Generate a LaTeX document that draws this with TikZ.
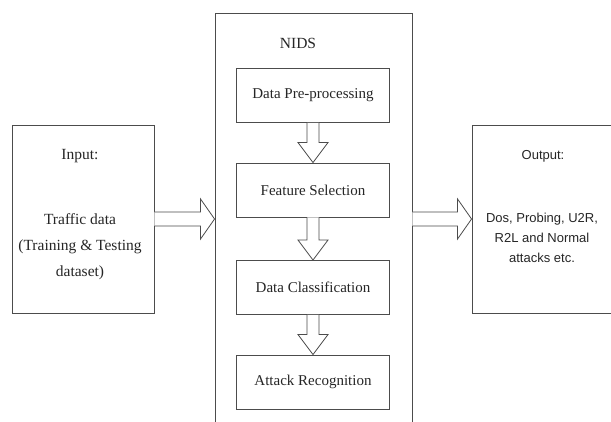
\documentclass[tikz,border=0pt]{standalone}
\usepackage{fontspec}
\setmainfont{Liberation Serif}
\setsansfont{Liberation Sans}
\usetikzlibrary{calc}

\tikzset{
  kasten/.style={draw=black!70, line width=0.9pt, inner sep=0pt},
  stufe/.style={kasten, minimum width=153pt, minimum height=54pt, text=black!85, font=\fontsize{15}{18}\selectfont},
  serif/.style={text=black!85, align=center, font=\fontsize{15.5}{26}\selectfont},
  grotesk/.style={text=black!85, align=center, font=\sffamily\fontsize{13}{20}\selectfont},
  pfeil/.style={draw=black!70, line width=0.8pt, fill=white},
}

% hohler Pfeil nach unten: von #1.south bis #2.north
\newcommand{\pfeilrunter}[2]{%
  \draw[pfeil] ($(#1.south)+(-6,0)$) -- ($(#2.north)+(-6,20)$) -- ($(#2.north)+(-15,20)$)
    -- (#2.north) -- ($(#2.north)+(15,20)$) -- ($(#2.north)+(6,20)$) -- ($(#1.south)+(6,0)$);}

% hohler Pfeil nach rechts: von #1 bis #2 (gleiche Hoehe)
\newcommand{\pfeilrechts}[2]{%
  \draw[pfeil] ($(#1)+(0,7)$) -- ($(#2)+(-14,7)$) -- ($(#2)+(-14,20)$)
    -- (#2) -- ($(#2)+(-14,-20)$) -- ($(#2)+(-14,-7)$) -- ($(#1)+(0,-7)$);}

\begin{document}
\begin{tikzpicture}[x=1pt, y=1pt]
\useasboundingbox (0,0) rectangle (611,422);
\fill[white] (0,0) rectangle (611,422);
\clip (0,0) rectangle (611,422);

%EINGABE (links)
\node[kasten, minimum width=142pt, minimum height=188pt] (ein) at (83,203) {};
\node[serif] (eintitel) at (80,266) {Input:};
\node[serif] (eintext) at (80,175) {Traffic data\\(Training \& Testing\\dataset)};



%NIDS (Mitte, unten abgeschnitten)
\node[kasten, minimum width=197pt, minimum height=429pt] (nids) at (313.5,194.5) {};
\node[serif] (nidstitel) at (298,379) {NIDS};

%STUFE NR. 1 (von oben)
\node[stufe] (vorver) at (313,326.5) {Data Pre-processing};

%STUFE NR. 2 (von oben)
\node[stufe] (merkmal) at (313,232) {Feature Selection};

%STUFE NR. 3 (von oben)
\node[stufe] (klass) at (313,134.5) {Data Classification};

%STUFE NR. 4 (von oben)
\node[stufe] (angriff) at (313,40) {Attack Recognition};

\pfeilrunter{vorver}{merkmal}
\pfeilrunter{merkmal}{klass}
\pfeilrunter{klass}{angriff}



%AUSGABE (rechts, rechts abgeschnitten)
\node[kasten, minimum width=142pt, minimum height=188pt] (aus) at (543,203) {};
\node[grotesk] (austitel) at (543,266) {Output:};
\node[grotesk] (austext) at (542,184) {Dos, Probing, U2R,\\R2L and Normal\\attacks etc.};



%VERBINDUNGEN
\coordinate (nidsein) at (nids.west |- ein.east);
\coordinate (nidsaus) at (nids.east |- aus.west);
\pfeilrechts{ein.east}{nidsein}
\pfeilrechts{nidsaus}{aus.west}

\end{tikzpicture}
\end{document}
